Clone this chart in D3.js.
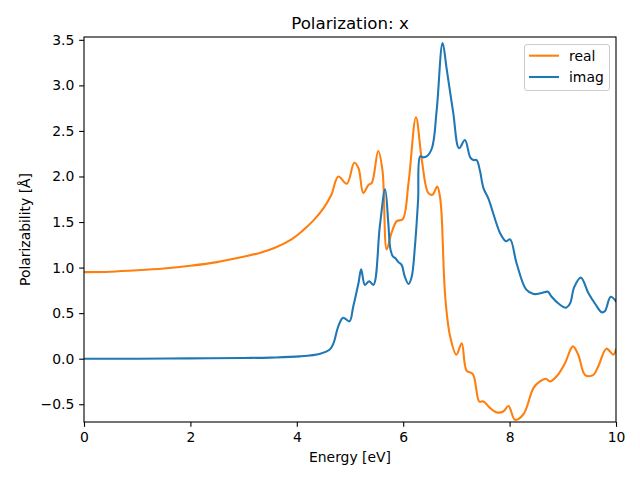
<!DOCTYPE html>
<html>
<head>
<meta charset="utf-8">
<script src="https://cdn.jsdelivr.net/npm/d3@7"></script>
<style>
  body { margin: 0; background: #fff; }
  svg { display: block; font-family: "DejaVu Sans", sans-serif; }
</style>
</head>
<body>
<svg id="chart" width="640" height="480"></svg>
<script>
const title = "Polarization: x";
const xLabel = "Energy [eV]";
const yLabel = "Polarizability [Å]";
const seriesNames = ["real", "imag"];
const xTicks = [0, 2, 4, 6, 8, 10];
const yTicks = [-0.5, 0.0, 0.5, 1.0, 1.5, 2.0, 2.5, 3.0, 3.5];

const realE = [0, 0.5, 1.0, 1.5, 2.0, 2.5, 3.0, 3.3, 3.6, 3.9, 4.1, 4.3, 4.5, 4.65, 4.78, 4.94, 5.08, 5.16, 5.25, 5.35, 5.41, 5.53, 5.61, 5.69, 5.78, 5.88, 5.99, 6.10, 6.24, 6.35, 6.47, 6.55, 6.64, 6.69, 6.72, 6.79, 6.88, 7.00, 7.10, 7.19, 7.31, 7.43, 7.51, 7.63, 7.76, 7.88, 7.98, 8.10, 8.26, 8.45, 8.57, 8.68, 8.76, 8.89, 9.04, 9.19, 9.29, 9.42, 9.57, 9.67, 9.82, 9.95, 10.0];
const realV = [0.95, 0.955, 0.97, 0.99, 1.02, 1.06, 1.12, 1.16, 1.22, 1.31, 1.40, 1.51, 1.65, 1.80, 2.00, 1.92, 2.15, 2.09, 1.82, 1.91, 1.93, 2.28, 2.07, 1.20, 1.38, 1.51, 1.53, 1.93, 2.65, 2.18, 1.82, 1.80, 1.89, 1.78, 1.60, 0.68, 0.25, 0.044, 0.17, -0.13, -0.17, -0.47, -0.47, -0.54, -0.59, -0.58, -0.52, -0.67, -0.61, -0.32, -0.25, -0.22, -0.25, -0.19, -0.05, 0.135, 0.044, -0.18, -0.18, -0.08, 0.11, 0.044, 0.10];

const imagE = [0, 1.0, 2.0, 3.0, 3.5, 4.06, 4.44, 4.62, 4.69, 4.78, 4.87, 4.99, 5.06, 5.16, 5.21, 5.28, 5.36, 5.44, 5.56, 5.66, 5.72, 5.76, 5.81, 5.85, 5.91, 5.97, 6.03, 6.10, 6.16, 6.22, 6.28, 6.32, 6.38, 6.44, 6.54, 6.63, 6.74, 6.82, 6.94, 7.05, 7.16, 7.26, 7.32, 7.38, 7.44, 7.51, 7.60, 7.82, 7.93, 8.01, 8.13, 8.31, 8.45, 8.60, 8.72, 8.79, 8.93, 9.06, 9.14, 9.21, 9.34, 9.48, 9.61, 9.73, 9.79, 9.90, 10.0];
const imagV = [0.0, 0.0, 0.003, 0.008, 0.012, 0.025, 0.055, 0.10, 0.17, 0.355, 0.45, 0.41, 0.57, 0.83, 0.98, 0.81, 0.85, 0.81, 1.45, 1.86, 1.49, 1.20, 1.12, 1.105, 1.06, 1.03, 0.90, 0.82, 0.90, 1.23, 1.745, 2.22, 2.21, 2.22, 2.31, 2.73, 3.465, 3.17, 2.70, 2.31, 2.40, 2.21, 2.18, 2.18, 2.07, 1.87, 1.76, 1.38, 1.29, 1.31, 1.05, 0.76, 0.71, 0.72, 0.735, 0.68, 0.60, 0.56, 0.61, 0.78, 0.89, 0.72, 0.60, 0.51, 0.52, 0.68, 0.63];

const colors = ["#ff7f0e", "#1f77b4"];

const svg = d3.select("#chart");
const L = 84, R = 616, T = 37, B = 422;
const x = d3.scaleLinear().domain([0, 10]).range([L, R]);
const y = d3.scaleLinear().domain([-0.695, 3.531]).range([B, T]);

svg.append("defs").append("clipPath").attr("id", "clip")
  .append("rect").attr("x", L).attr("y", T).attr("width", R - L).attr("height", B - T);

const line = d3.line().x(d => x(d[0])).y(d => y(d[1])).curve(d3.curveCatmullRom.alpha(0.5));
const realData = realE.map((e, i) => [e, realV[i]]);
const imagData = imagE.map((e, i) => [e, imagV[i]]);

const g = svg.append("g").attr("clip-path", "url(#clip)");
g.append("path").datum(realData).attr("d", line).attr("fill", "none")
  .attr("stroke", colors[0]).attr("stroke-width", 2.08).attr("stroke-linejoin", "round").attr("stroke-linecap", "square");
g.append("path").datum(imagData).attr("d", line).attr("fill", "none")
  .attr("stroke", colors[1]).attr("stroke-width", 2.08).attr("stroke-linejoin", "round").attr("stroke-linecap", "square");

const xAxis = d3.axisBottom(x).tickValues(xTicks).tickFormat(d3.format("d")).tickSizeOuter(0).tickSize(4.86).tickPadding(4.86);
const yAxis = d3.axisLeft(y).tickValues(yTicks).tickFormat(d => d3.format(".1f")(d).replace("-", "\u2212")).tickSizeOuter(0).tickSize(4.86).tickPadding(4.86);

const gx = svg.append("g").attr("transform", `translate(0,${B})`).call(xAxis);
const gy = svg.append("g").attr("transform", `translate(${L},0)`).call(yAxis);
[gx, gy].forEach(a => {
  a.select(".domain").remove();
  a.selectAll(".tick line").attr("stroke", "#000").attr("stroke-width", 1.1);
  a.selectAll(".tick text").attr("fill", "#000").style("font-size", "13.9px").style("font-family", "DejaVu Sans");
});

svg.append("rect").attr("x", L).attr("y", T).attr("width", R - L).attr("height", B - T)
  .attr("fill", "none").attr("stroke", "#000").attr("stroke-width", 1.1);

svg.append("text").attr("x", (L + R) / 2).attr("y", 29).attr("text-anchor", "middle")
  .style("font-size", "16.67px").attr("fill", "#000").text(title);
svg.append("text").attr("x", (L + R) / 2).attr("y", 462).attr("text-anchor", "middle")
  .style("font-size", "13.9px").attr("fill", "#000").text(xLabel);
svg.append("text").attr("transform", `translate(30,${(T + B) / 2}) rotate(-90)`).attr("text-anchor", "middle")
  .style("font-size", "13.9px").attr("fill", "#000").text(yLabel);

const lg = svg.append("g");
lg.append("rect").attr("x", 524.5).attr("y", 44.5).attr("width", 85).attr("height", 46).attr("rx", 2.5)
  .attr("fill", "#fff").attr("fill-opacity", 0.8).attr("stroke", "#ccc").attr("stroke-width", 1);
seriesNames.forEach((n, i) => {
  const yy = 55.7 + i * 21.3;
  lg.append("line").attr("x1", 529).attr("x2", 559).attr("y1", yy).attr("y2", yy)
    .attr("stroke", colors[i]).attr("stroke-width", 2.08);
  lg.append("text").attr("x", 569).attr("y", yy + 5).style("font-size", "13.9px").attr("fill", "#000").text(n);
});
</script>
</body>
</html>
